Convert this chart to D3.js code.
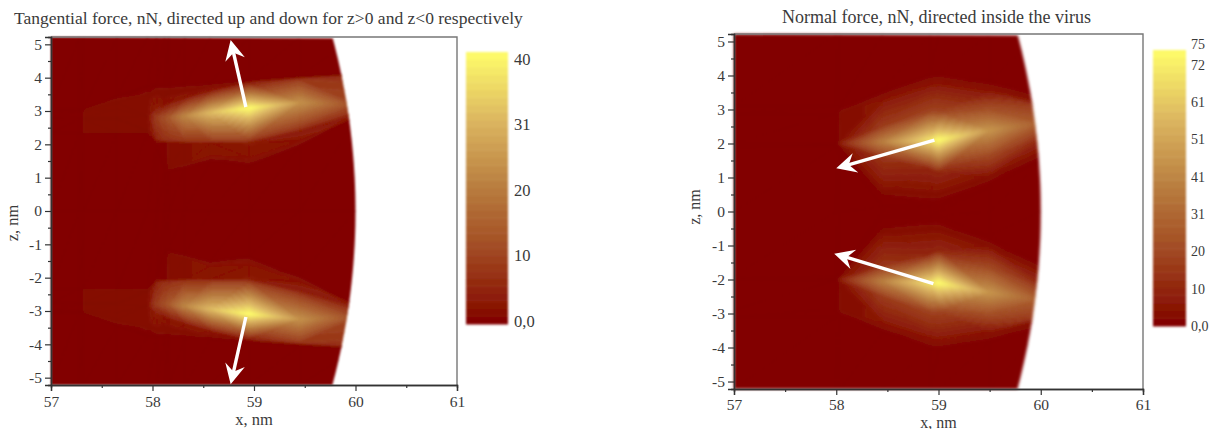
<!DOCTYPE html>
<html>
<head>
<meta charset="utf-8">
<script src="https://cdn.jsdelivr.net/npm/d3@7"></script>
<style>
  body { margin: 0; background: #fff; }
  svg { display: block; }
  text { font-family: "Liberation Serif", serif; fill: #3a3a3a; }
</style>
</head>
<body>
<svg id="canvas" width="1212" height="429"></svg>
<script>
// curved mesh: one x per column, then z and force per row.
// upper half only, the lower half of each panel is its mirror
const tangentialColumns = [57, 57.28, 57.32, 57.65, 57.95, 58.04, 58.12, 58.16, 58.32, 58.57, 58.95, 59.45, 60];
const tangentialRowZ = [
    [0, 0, 0, 0, 0, 0, 0, 0, 0, 0, 0, 0, 0],
    [2.33, 2.33, 2.33, 2.33, 2.33, 2.0, 1.12, 1.15, 1.3, 1.5, 1.35, 1.95, 2.8],
    [2.35, 2.35, 2.35, 2.35, 2.35, 2.02, 1.25, 1.25, 1.4, 1.65, 1.6, 2.1, 2.85],
    [2.75, 2.75, 2.75, 2.75, 2.4, 2.08, 2.05, 2.05, 2.05, 2.05, 2.05, 2.4, 2.9],
    [2.8, 2.8, 2.8, 2.8, 2.42, 2.15, 2.13, 2.12, 2.1, 2.1, 2.1, 2.45, 2.95],
    [3, 3, 3, 3.05, 2.85, 2.8, 2.8, 2.8, 2.85, 2.95, 3.09, 3.25, 3.2],
    [3.01, 3.01, 3.03, 3.25, 3.5, 3.1, 3.2, 3.25, 3.4, 3.62, 3.85, 3.95, 4.05],
    [3.02, 3.02, 3.04, 3.4, 3.72, 3.72, 3.72, 3.72, 3.75, 3.8, 3.9, 4, 4.1],
    [3.05, 3.05, 3.07, 3.45, 3.77, 3.77, 3.77, 3.77, 3.8, 3.85, 3.95, 4.05, 4.15],
    [5.22, 5.22, 5.22, 5.22, 5.22, 5.22, 5.22, 5.22, 5.22, 5.22, 5.22, 5.22, 5.22]
];
const tangentialRowF = [
    [0, 0, 0, 0, 0, 0, 0, 0, 0, 0, 0, 0, 0],
    [0, 0, 0, 0, 0, 0, 0, 0, 0, 0, 0, 0, 0],
    [0, 0, 1.2, 1.2, 1.2, 1, 0, 1.2, 2, 3, 3, 3, 4],
    [0, 0, 1.2, 2.2, 1.2, 2, 1, 1.2, 2, 3, 3.5, 4, 5],
    [0, 0, 1.2, 2.2, 1.2, 5, 7, 7, 8, 8, 8, 7, 6],
    [0, 0, 1.2, 2.2, 2, 9, 12, 14, 22, 31, 41, 24, 11],
    [0, 0, 1.2, 1.8, 1.2, 4, 3, 3, 3, 3, 4, 8, 7],
    [0, 0, 1, 1, 1, 1, 1, 1, 1, 1, 1, 1, 1],
    [0, 0, 0, 0, 0, 0, 0, 0, 0, 0, 0, 0, 0],
    [0, 0, 0, 0, 0, 0, 0, 0, 0, 0, 0, 0, 0]
];

const normalColumns = [57, 58, 58.04, 58.45, 58.92, 59, 59.5, 60];
const normalRowZ = [
    [0, 0, 0, 0, 0, 0, 0, 0],
    [1.9, 1.9, 1.7, 0.15, 0.15, 0.15, 0.7, 1.5],
    [1.95, 1.95, 1.9, 0.5, 0.5, 0.5, 1, 1.75],
    [1.97, 1.97, 1.92, 1.6, 1.25, 1.15, 1.65, 2.1],
    [2, 2, 2, 2.05, 2.1, 2.1, 2.39, 2.6],
    [2.02, 2.02, 2.1, 2.5, 2.95, 2.95, 3, 3.08],
    [2.88, 2.88, 2.9, 3.3, 3.75, 3.78, 3.55, 3.15],
    [3.1, 3.1, 3.1, 3.55, 4.05, 4.08, 3.85, 3.5],
    [5.22, 5.22, 5.22, 5.22, 5.22, 5.22, 5.22, 5.22]
];
const normalRowF = [
    [0, 0, 0, 0, 0, 0, 0, 0],
    [0, 0, 0, 0, 0, 0, 0, 0],
    [0, 0, 1, 2, 3, 3, 3, 4],
    [0, 0, 3, 14, 10, 10, 20, 10],
    [0, 0, 8, 38, 68, 75, 45, 26],
    [0, 0, 3, 16, 18, 18, 22, 16],
    [0, 0, 3, 5, 5, 5, 5, 5],
    [0, 0, 0, 0, 0, 0, 0, 0],
    [0, 0, 0, 0, 0, 0, 0, 0]
];

const xTicks = [57, 58, 59, 60, 61];
const xMinorTicks = [57.5, 58.5, 59.5, 60.5];
const zTicks = [-5, -4, -3, -2, -1, 0, 1, 2, 3, 4, 5];
const zMinorTicks = [-4.5, -3.5, -2.5, -1.5, -0.5, 0.5, 1.5, 2.5, 3.5, 4.5];

const tangentialBarValues = [0, 10, 20, 30, 40];
const tangentialBarLabels = ["0,0", "10", "20", "31", "40"];
const normalBarValues = [0, 10, 20, 30, 40, 50, 60, 70, 75.5];
const normalBarLabels = ["0,0", "10", "20", "31", "41", "51", "61", "72", "75"];

// arrows as [base x, base z, tip x, tip z]
const tangentialArrows = [[58.92, 3.12, 58.77, 5.13], [58.92, -3.18, 58.77, -5.2]];
const normalArrows = [[58.96, 2.1, 58, 1.27], [58.95, -2.12, 57.98, -1.24]];

const virusRadius = 60;
const zLimit = 5.22;

const colorStops = [0, 0.1, 0.25, 0.5, 0.75, 1];
const colorValues = ["#800000", "#8d1c08", "#9f4420", "#b87c3e", "#dcb660", "#fffd6a"];
const colorOf = d3.scaleLinear().domain(colorStops).range(colorValues);

const svg = d3.select("#canvas");
const defs = svg.append("defs");

const addBlur = (id, amount) => {
    defs.append("filter")
        .attr("id", id)
        .attr("x", "-5%").attr("y", "-5%").attr("width", "110%").attr("height", "110%")
        .append("feGaussianBlur").attr("stdDeviation", amount);
}
addBlur("soft", 0.8);
addBlur("softer", 1.4);

// whole mesh as triangles, each quad split along the diagonal of closest values
const buildTriangles = (columns, rowZ, rowF, x, z) => {
    const rowCount = rowZ.length;
    const fullZ = rowZ.slice(1).reverse().map(r => r.map(v => -v)).concat(rowZ);
    const fullF = rowF.slice(1).reverse().concat(rowF);
    const node = (r, c) => ({ px: x(columns[c]), py: z(fullZ[r][c]), f: fullF[r][c] });

    const triangles = [];
    for (let r = 0; r < 2 * rowCount - 2; r++) {
        for (let c = 0; c < columns.length - 1; c++) {
            const a = node(r, c), b = node(r, c + 1), d = node(r + 1, c), e = node(r + 1, c + 1);
            if (Math.abs(a.f - e.f) <= Math.abs(b.f - d.f)) {
                triangles.push([a, b, e], [a, e, d]);
            } else {
                triangles.push([a, b, d], [b, e, d]);
            }
        }
    }
    return triangles;
}

// cut a polygon down to the part on one side of a force level
const clipLevel = (poly, level, keepAbove) => {
    const out = [];
    poly.forEach((a, i) => {
        const b = poly[(i + 1) % poly.length];
        const aIn = keepAbove ? a.f >= level : a.f <= level;
        const bIn = keepAbove ? b.f >= level : b.f <= level;
        if (aIn) out.push(a);
        if (aIn !== bIn) {
            const t = (level - a.f) / (b.f - a.f);
            out.push({ px: a.px + t * (b.px - a.px), py: a.py + t * (b.py - a.py), f: level });
        }
    });
    return out;
}

const drawPanel = (p) => {
    const x = d3.scaleLinear().domain([57, 61]).range(p.xRange);
    const z = d3.scaleLinear().domain([-zLimit, zLimit]).range(p.zRange);

    // the virus surface is the right edge of the map
    const edgeZ = d3.range(-zLimit, zLimit + 0.01, 0.2);
    const edge = edgeZ.map(v => [x(Math.sqrt(virusRadius * virusRadius - v * v)), z(v)]);
    const outline = [[x(57), z(-zLimit)]].concat(edge, [[x(57), z(zLimit)]]);
    defs.append("clipPath").attr("id", p.id + "-clip")
        .append("path").attr("d", d3.line()(outline) + "Z");

    const triangles = buildTriangles(p.columns, p.rowZ, p.rowF, x, z);
    const bandSize = p.maxValue / 36;
    const levels = d3.range(0, p.maxValue, bandSize);
    const line = d3.line().x(d => d.px).y(d => d.py).curve(d3.curveLinearClosed);

    const heat = svg.append("g").attr("filter", `url(#${p.blur})`)
        .append("g").attr("clip-path", `url(#${p.id}-clip)`);

    levels.forEach(lo => {
        const fill = colorOf((lo + bandSize / 2) / p.maxValue);
        const paths = [];
        triangles.forEach(tri => {
            let poly = clipLevel(tri, lo, true);
            if (poly.length) poly = clipLevel(poly, lo + bandSize, false);
            if (poly.length >= 3) paths.push(line(poly));
        });
        if (paths.length) {
            heat.append("path")
                .attr("d", paths.join(""))
                .attr("fill", fill)
                .attr("stroke", fill)
                .attr("stroke-width", 0.6);
        }
    });

    // frame, lighter on the top and right
    svg.append("path")
        .attr("d", `M${p.xRange[0]},${p.zRange[1]}H${p.xRange[1]}V${p.zRange[0]}`)
        .attr("fill", "none")
        .attr("stroke", "#777").attr("stroke-width", 1.4);

    const bottom = svg.append("g")
        .attr("transform", `translate(0,${p.zRange[0]})`)
        .call(d3.axisBottom(x).tickValues(xTicks).tickFormat(d => String(d)).tickSize(6).tickPadding(p.xPad));
    const bottomMinor = svg.append("g")
        .attr("transform", `translate(0,${p.zRange[0]})`)
        .call(d3.axisBottom(x).tickValues(xMinorTicks).tickFormat("").tickSize(3));
    const left = svg.append("g")
        .attr("transform", `translate(${p.xRange[0]},0)`)
        .call(d3.axisLeft(z).tickValues(zTicks).tickFormat(d => String(d)).tickSize(6).tickPadding(3));
    const leftMinor = svg.append("g")
        .attr("transform", `translate(${p.xRange[0]},0)`)
        .call(d3.axisLeft(z).tickValues(zMinorTicks).tickFormat("").tickSize(3));

    [bottom, bottomMinor, left, leftMinor].forEach(axis => {
        axis.select(".domain").attr("stroke", "#333").attr("stroke-width", 1.4);
        axis.selectAll(".tick line").attr("stroke", "#333").attr("stroke-width", 1.2);
        axis.selectAll(".tick text")
            .attr("fill", "#3a3a3a")
            .attr("font-family", '"Liberation Serif", serif')
            .attr("font-size", p.tickFont);
    });

    svg.append("text")
        .attr("x", p.titleX).attr("y", p.titleY)
        .style("font-size", p.titleFont + "px")
        .text(p.title);
    svg.append("text")
        .attr("x", x(59)).attr("y", p.xLabelY)
        .attr("text-anchor", "middle")
        .style("font-size", p.labelFont + "px")
        .text("x, nm");
    svg.append("text")
        .attr("transform", `translate(${p.zLabelX},${p.zLabelY}) rotate(-90)`)
        .attr("text-anchor", "middle")
        .style("font-size", p.labelFont + "px")
        .text("z, nm");

    // arrows
    p.arrows.forEach(a => {
        const bx = x(a[0]), by = z(a[1]), tx = x(a[2]), ty = z(a[3]);
        const angle = Math.atan2(ty - by, tx - bx);
        const at = (along, side) => [
            tx - along * Math.cos(angle) - side * Math.sin(angle),
            ty - along * Math.sin(angle) + side * Math.cos(angle)
        ];
        svg.append("line")
            .attr("x1", bx).attr("y1", by)
            .attr("x2", at(8, 0)[0]).attr("y2", at(8, 0)[1])
            .attr("stroke", "#fff").attr("stroke-width", 3.4);
        svg.append("path")
            .attr("d", "M" + [at(0, 0), at(20, 10), at(13, 0), at(20, -10)].join("L") + "Z")
            .attr("fill", "#fff");
    });

    // colour bar
    const bar = d3.scaleLinear().domain(p.barDomain).range(p.barRange);
    const barBands = d3.range(0, 36);
    const bandHeight = (p.barBottom - p.barTop) / 36;
    svg.append("g").attr("filter", "url(#soft)")
        .selectAll("rect")
        .data(barBands)
        .enter()
        .append("rect")
        .attr("x", p.barX)
        .attr("y", d => p.barBottom - (d + 1) * bandHeight)
        .attr("width", p.barWidth)
        .attr("height", bandHeight + 0.5)
        .attr("fill", d => colorOf((d + 0.5) / 36));

    svg.append("g")
        .selectAll("text")
        .data(p.barValues)
        .enter()
        .append("text")
        .attr("x", p.barX + p.barWidth + p.barPad)
        .attr("y", d => bar(d))
        .attr("dy", "0.35em")
        .style("font-size", p.barFont + "px")
        .text((d, i) => p.barLabels[i]);
}

drawPanel({
    id: "tangential", blur: "soft",
    columns: tangentialColumns, rowZ: tangentialRowZ, rowF: tangentialRowF, maxValue: 41, arrows: tangentialArrows,
    xRange: [51, 457], zRange: [385, 37], tickFont: 15.5, xPad: 5, xLabelY: 425, labelFont: 16.5,
    title: "Tangential force, nN, directed up and down for z>0 and z<0 respectively",
    titleX: 14, titleY: 24, titleFont: 17.5, zLabelX: 18, zLabelY: 223,
    barX: 466, barWidth: 42, barTop: 52, barBottom: 324, barPad: 6, barFont: 16.5,
    barDomain: [0, 40], barRange: [321, 59], barValues: tangentialBarValues, barLabels: tangentialBarLabels
});

drawPanel({
    id: "normal", blur: "softer",
    columns: normalColumns, rowZ: normalRowZ, rowF: normalRowF, maxValue: 75, arrows: normalArrows,
    xRange: [734, 1143], zRange: [389, 34], tickFont: 15.5, xPad: 4, xLabelY: 427.5, labelFont: 16,
    title: "Normal force, nN, directed inside the virus",
    titleX: 782, titleY: 23, titleFont: 18, zLabelX: 700, zLabelY: 207,
    barX: 1153, barWidth: 33, barTop: 50, barBottom: 326, barPad: 5, barFont: 14,
    barDomain: [0, 70], barRange: [326, 65], barValues: normalBarValues, barLabels: normalBarLabels
});
</script>
</body>
</html>
